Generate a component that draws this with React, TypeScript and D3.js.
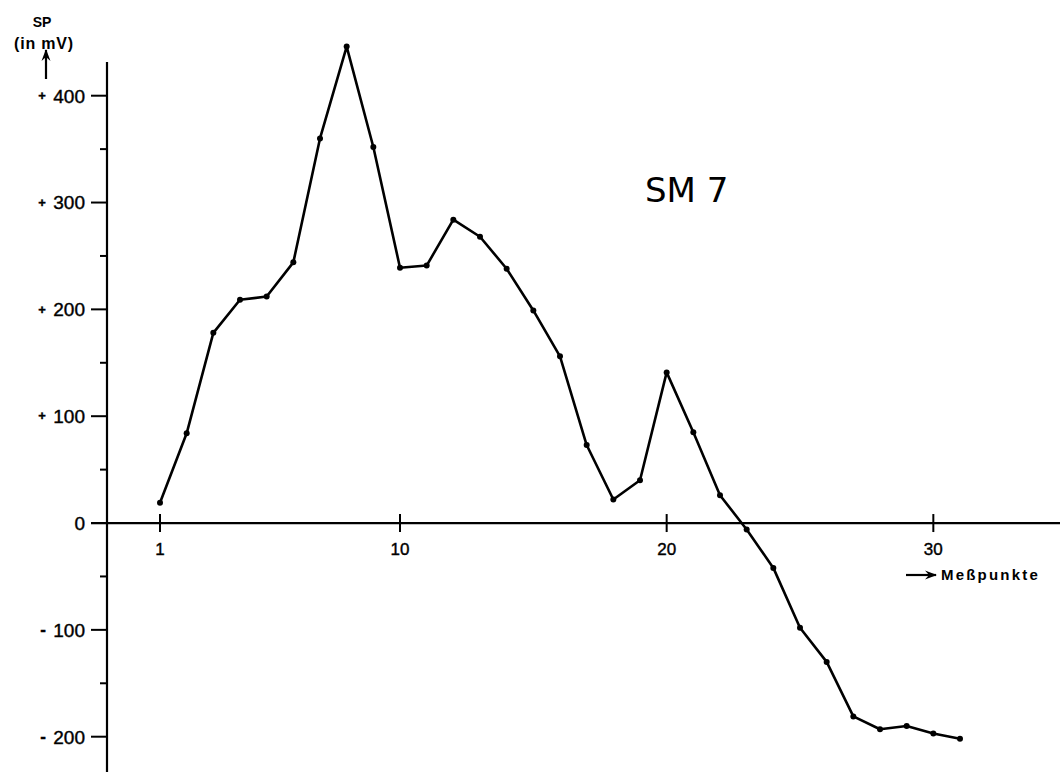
import React from "react";
import * as d3 from "d3";

const measurePoints = [1,2,3,4,5,6,7,8,9,10,11,12,13,14,15,16,17,18,19,20,21,22,23,24,25,26,27,28,29,30,31];
const spValues = [19,84,178,209,212,244,360,446,352,239,241,284,268,238,199,156,73,22,40,141,85,26,-6,-42,-98,-130,-181,-193,-190,-197,-202];
const xTicks = [1, 10, 20, 30];
const yMajorTicks = [-200, -100, 0, 100, 200, 300, 400];
const yMinorTicks = [-150, -50, 50, 150, 250, 350];

const W = 1060;
const H = 772;

export default function App() {
  const x = d3.scaleLinear().domain([1, 31]).range([160, 960]);
  const y = d3.scaleLinear().domain([-200, 400]).range([736.7, 95.7]);
  const axisX = 107;
  const y0 = y(0);
  const pts = measurePoints.map((m, i) => [x(m), y(spValues[i])] as [number, number]);
  const line = d3.line().x(d => d[0]).y(d => d[1])(pts) || "";
  const font = "'Liberation Sans', Arial, sans-serif";

  return (
    <svg width={W} height={H} style={{ position: "absolute", left: 0, top: 0, background: "#fff" }}>
      <defs>
        <marker id="ah" viewBox="0 0 12 10" refX="11" refY="5" markerWidth="12" markerHeight="10" orient="auto" markerUnits="userSpaceOnUse">
          <path d="M0,0.5 L12,5 L0,9.5 L4,5 Z" fill="#000" />
        </marker>
      </defs>
      <rect x={0} y={0} width={W} height={H} fill="#fff" />
      {/* y axis */}
      <line x1={axisX} x2={axisX} y1={62} y2={H} stroke="#000" strokeWidth={2.2} />
      {yMajorTicks.map(t => (
        <line key={"M" + t} x1={axisX - 16} x2={axisX} y1={y(t)} y2={y(t)} stroke="#000" strokeWidth={2} />
      ))}
      {yMinorTicks.map(t => (
        <line key={"m" + t} x1={axisX - 7} x2={axisX} y1={y(t)} y2={y(t)} stroke="#000" strokeWidth={2} />
      ))}
      {yMajorTicks.map(t => (
        <g key={"l" + t} fontFamily={font} fill="#000" stroke="#000" strokeWidth={0.4}>
          <text x={85} y={y(t)} dy="0.36em" textAnchor="end" fontSize={19}>{Math.abs(t)}</text>
          {t > 0 && <text x={42} y={y(t)} dy="0.33em" textAnchor="middle" fontSize={13} fontWeight="bold">+</text>}
          {t < 0 && <text x={43} y={y(t)} dy="0.33em" textAnchor="middle" fontSize={17} fontWeight="bold">-</text>}
        </g>
      ))}
      {/* x axis */}
      <line x1={91} x2={W} y1={y0} y2={y0} stroke="#000" strokeWidth={2.2} />
      {xTicks.map(t => (
        <g key={"x" + t}>
          <line x1={x(t)} x2={x(t)} y1={y0 - 9} y2={y0 + 9} stroke="#000" strokeWidth={2} />
          <text x={x(t)} y={y0 + 26} dy="0.35em" textAnchor="middle" fontFamily={font} fontSize={17} stroke="#000" strokeWidth={0.4}>{t}</text>
        </g>
      ))}
      {/* y axis label */}
      <text x={42} y={22} dy="0.35em" textAnchor="middle" fontFamily={font} fontSize={14} fontWeight="bold">SP</text>
      <text x={44} y={43} dy="0.35em" textAnchor="middle" fontFamily={font} fontSize={16} fontWeight="bold" letterSpacing={0.8}>(in  mV)</text>
      <line x1={46} x2={46} y1={79} y2={50} stroke="#000" strokeWidth={2.2} markerEnd="url(#ah)" />
      {/* x axis label */}
      <line x1={906} x2={936} y1={575} y2={575} stroke="#000" strokeWidth={2.2} markerEnd="url(#ah)" />
      <text x={941} y={575} dy="0.35em" fontFamily={font} fontSize={15} fontWeight="bold" letterSpacing={2.2}>Meßpunkte</text>
      {/* series */}
      <path d={line} fill="none" stroke="#000" strokeWidth={2.6} strokeLinejoin="round" />
      {pts.map((p, i) => (
        <circle key={i} cx={p[0]} cy={p[1]} r={3} fill="#000" />
      ))}
      <text x={645} y={190} dy="0.35em" fontFamily="'DejaVu Sans', sans-serif" fontSize={34}>SM 7</text>
    </svg>
  );
}
